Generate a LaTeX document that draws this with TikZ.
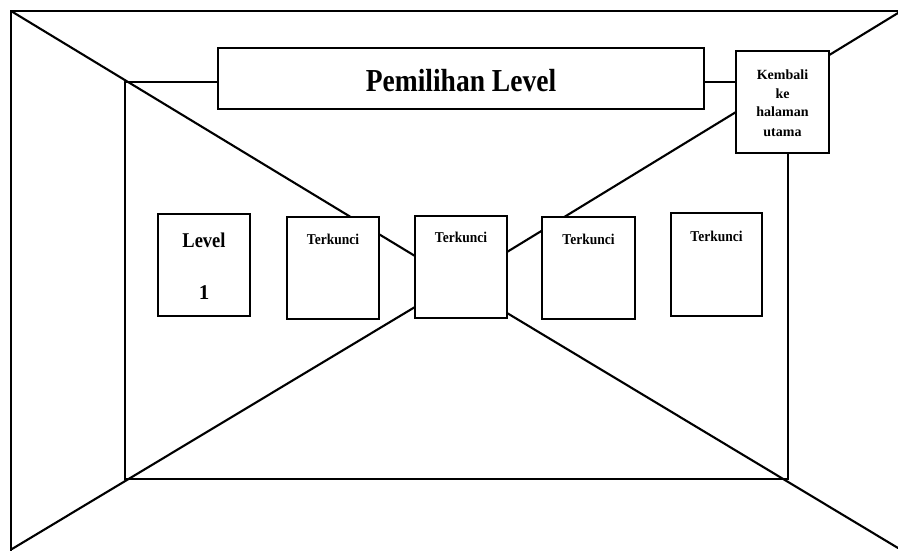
\documentclass[tikz,border=0pt]{standalone}
\usepackage{fontspec}
\setmainfont{Liberation Serif}
\usetikzlibrary{backgrounds}
\begin{document}
\begin{tikzpicture}[x=1pt,y=-1pt,
  frame/.style={line width=2.1pt,line cap=round,line join=miter},
  panel/.style={draw,line width=2pt,fill=white,inner sep=0pt},
  caption/.style={anchor=base,inner sep=0pt,font=\bfseries}]
\useasboundingbox (0,0) rectangle (898,551);

% outer frame corners
\coordinate (oTL) at (11,11);
\coordinate (oTR) at (898,11);
\coordinate (oBL) at (11,551);
\coordinate (rTop) at (898,13);
\coordinate (rBot) at (898,548);
\coordinate (lBot) at (12,549);

% inner room corners
\coordinate (iTL) at (125,82);
\coordinate (iBL) at (125,479);
\coordinate (iBR) at (788,479);

% panels
\node[panel,minimum width=486pt,minimum height=61pt] (title) at (461,78.5) {};
\node[panel,minimum width=93pt,minimum height=102pt] (back) at (782.5,102) {};
\node[panel,minimum width=92pt,minimum height=102pt] (lv1) at (204,265) {};
\node[panel,minimum width=92pt,minimum height=102pt] (lk1) at (333,268) {};
\node[panel,minimum width=92pt,minimum height=102pt] (lk2) at (461,267) {};
\node[panel,minimum width=93pt,minimum height=102pt] (lk3) at (588.5,268) {};
\node[panel,minimum width=91pt,minimum height=103pt] (lk4) at (716.5,264.5) {};

% where the perspective lines meet the centre panel
\coordinate (cL1) at (415,256);
\coordinate (cL2) at (415,307);
\coordinate (cR1) at (507,252);
\coordinate (cR2) at (507,313);

\begin{scope}[on background layer]
% frame, perspective lines and room outline
\draw[frame] (oBL) -- (oTL) -- (oTR);
\draw[frame] (oTL) -- (cL1);
\draw[frame] (lBot) -- (cL2);
\draw[frame] (rTop) -- (cR1);
\draw[frame] (rBot) -- (cR2);
\draw[frame] (iTL) -- (iBL) -- (iBR) -- (iBR |- back.south);
\draw[frame] (iTL) -- (iTL -| title.west);
\draw[frame] (iTL -| title.east) -- (iTL -| back.west);
\end{scope}

% captions
\node[caption] (titletext) at (461,92) {\fontsize{32}{36}\selectfont\scalebox{0.86}[1]{Pemilihan Level}};
\node[caption] (backt1) at (782.5,80) {\fontsize{14}{16}\selectfont Kembali};
\node[caption] (backt2) at (782.5,98.5) {\fontsize{14}{16}\selectfont ke};
\node[caption] (backt3) at (782.5,117) {\fontsize{14}{16}\selectfont halaman};
\node[caption] (backt4) at (782.5,136) {\fontsize{14}{16}\selectfont utama};
\node[caption] (lv1a) at (204,247) {\fontsize{21}{24}\selectfont\scalebox{0.88}[1]{Level}};
\node[caption] (lv1b) at (204,299) {\fontsize{21}{24}\selectfont 1};
\node[caption] (lk1t) at (333,244) {\fontsize{15}{18}\selectfont\scalebox{0.9}[1]{Terkunci}};
\node[caption] (lk2t) at (461,242.5) {\fontsize{15}{18}\selectfont\scalebox{0.9}[1]{Terkunci}};
\node[caption] (lk3t) at (588.5,244) {\fontsize{15}{18}\selectfont\scalebox{0.9}[1]{Terkunci}};
\node[caption] (lk4t) at (716.5,241) {\fontsize{15}{18}\selectfont\scalebox{0.9}[1]{Terkunci}};
\end{tikzpicture}
\end{document}
